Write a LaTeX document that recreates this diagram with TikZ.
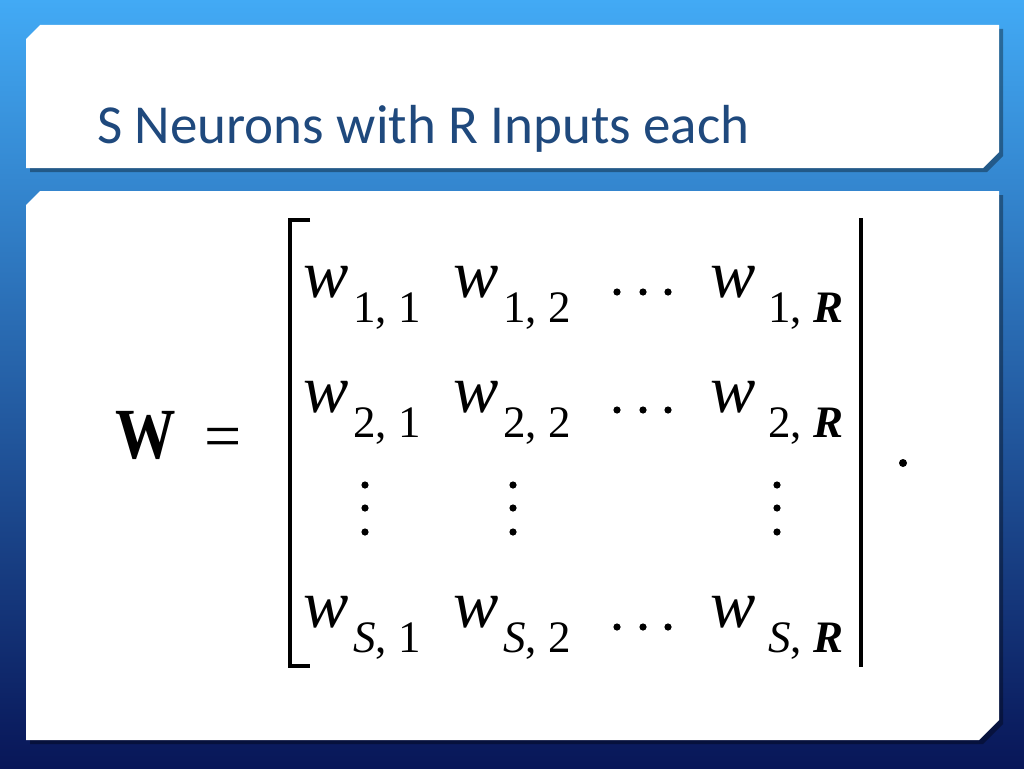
\documentclass[tikz,border=0pt]{standalone}
\usepackage{fontspec}
\setmainfont{Liberation Serif}
\newfontfamily\titlefont{Carlito}
\usepackage{tikz}
\usetikzlibrary{calc}

\definecolor{skytop}{RGB}{66,170,245}
\definecolor{skymid}{RGB}{32,104,196}
\definecolor{skybot}{RGB}{8,22,88}
\definecolor{titleblue}{RGB}{31,73,125}

\tikzset{
  panel/.style={fill=white},
  shade panel/.style={fill=black,opacity=0.35},
  entry/.style={anchor=base west,inner sep=0pt,font=\fontsize{68}{68}\selectfont\itshape},
  sub/.style={anchor=base west,inner sep=0pt,font=\fontsize{45}{45}\selectfont},
  dot/.style={fill=black},
  bracket/.style={line width=4.5pt}
}

\begin{document}
\begin{tikzpicture}[x=1pt,y=-1pt]
            \useasboundingbox (0,0) rectangle (1024,768);
            \shade[top color=skytop, middle color=skymid, bottom color=skybot] (0,0) rectangle (1024,768);

            % title panel
            \fill[shade panel] (44,29) -- (1003,29) -- (1003,156) -- (987,172) -- (30,172) -- (30,43) -- cycle;
            \fill[panel] (40,25) -- (999,25) -- (999,152) -- (983,168) -- (26,168) -- (26,39) -- cycle;
            \node[anchor=base west, inner sep=0pt, text=titleblue, font=\titlefont\fontsize{55}{55}\selectfont] (title) at (97,143) {S Neurons with R Inputs each};

            % content panel
            \fill[shade panel] (44,195) -- (1003,195) -- (1003,724) -- (983,744) -- (30,744) -- (30,209) -- cycle;
            \fill[panel] (40,191) -- (999,191) -- (999,720) -- (979,740) -- (26,740) -- (26,205) -- cycle;

            \node[anchor=base west, inner sep=0pt, font=\fontsize{72}{72}\selectfont\bfseries] (W) at (115,458) {\scalebox{0.84}[1]{W}};
            \node[anchor=base west, inner sep=0pt, font=\fontsize{66}{66}\selectfont] (eq) at (204,458) {=};

            % brackets
            \draw[bracket] (310,220) -| (290,666) -- (310,666);
            \draw[bracket] (861,218) -- (861,667);

            % row 1
            \node[entry] (w11) at (303,297) {w};
            \node[sub]   (s11) at (353,322) {1, 1};
            \node[entry] (w12) at (453,297) {w};
            \node[sub]   (s12) at (503,322) {1, 2};
            \node[entry] (w1R) at (710,297) {w};
            \node[sub]   (s1R) at (768,322) {1, \textit{\textbf{R}}};

            % row 2
            \node[entry] (w21) at (303,412) {w};
            \node[sub]   (s21) at (353,437) {2, 1};
            \node[entry] (w22) at (453,412) {w};
            \node[sub]   (s22) at (503,437) {2, 2};
            \node[entry] (w2R) at (710,412) {w};
            \node[sub]   (s2R) at (768,437) {2, \textit{\textbf{R}}};

            % row S
            \node[entry] (wS1) at (303,627) {w};
            \node[sub]   (sS1) at (353,652) {\textit{S}, 1};
            \node[entry] (wS2) at (453,627) {w};
            \node[sub]   (sS2) at (503,652) {\textit{S}, 2};
            \node[entry] (wSR) at (710,627) {w};
            \node[sub]   (sSR) at (768,652) {\textit{S}, \textit{\textbf{R}}};

            % dots
            \foreach \y in {292,410,627}
              \foreach \x in {617,643,668}
                \fill[dot] (\x,\y) circle (3.6);
            \foreach \x in {365,513,777}
              \foreach \y in {485,508,532}
                \fill[dot] (\x,\y) circle (3.6);
            \fill[dot] (903,463) circle (4);
        \end{tikzpicture}
\end{document}
